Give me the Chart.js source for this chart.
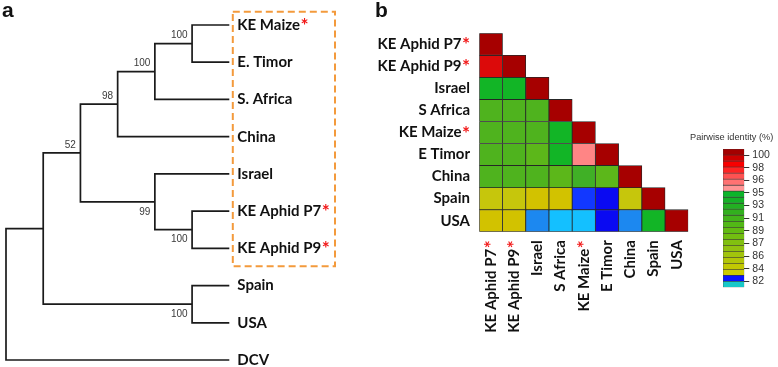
<!DOCTYPE html>
<html>
<head>
<meta charset="utf-8">
<script src="https://cdn.jsdelivr.net/npm/chart.js@4.4.0/dist/chart.umd.min.js"></script>
<style>
  html, body { margin: 0; padding: 0; background: #fff; }
  #wrap { position: relative; width: 778px; height: 367px; overflow: hidden; }
  canvas { position: absolute; }
  .panel { position: absolute; font: bold 21px "Liberation Sans", Arial, sans-serif; line-height: 21px; color: #111; }
  #legendTitle { position: absolute; left: 690px; top: 132px; font: 9.2px "Liberation Sans", Arial, sans-serif; color: #333; white-space: nowrap; }
</style>
</head>
<body>
<div id="wrap">
  <canvas id="treeChart" width="380" height="367" style="left:0;top:0"></canvas>
  <canvas id="heatChart" width="340" height="367" style="left:360px;top:0"></canvas>
  <canvas id="scaleChart" width="78" height="180" style="left:700px;top:120px"></canvas>
  <div class="panel" style="left:2px;top:-1px">a</div>
  <div class="panel" style="left:375px;top:-1px">b</div>
  <div id="legendTitle">Pairwise identity (%)</div>
</div>
<script>
// panel a: cladogram, leaves top to bottom
var treeLeaves = ['KE Maize', 'E. Timor', 'S. Africa', 'China', 'Israel', 'KE Aphid P7', 'KE Aphid P9', 'Spain', 'USA', 'DCV'];
var treeStarred = ['KE Maize', 'KE Aphid P7', 'KE Aphid P9'];
var leafDepth = 6;
// internal nodes: [name, first child, second child, depth, bootstrap]
var treeNodes = [
  ['n1', 'KE Maize', 'E. Timor', 5, 100],
  ['n2', 'n1', 'S. Africa', 4, 100],
  ['n3', 'n2', 'China', 3, 98],
  ['n4', 'KE Aphid P7', 'KE Aphid P9', 5, 100],
  ['n5', 'Israel', 'n4', 4, 99],
  ['n6', 'n3', 'n5', 2, 52],
  ['n7', 'Spain', 'USA', 5, 100],
  ['n8', 'n6', 'n7', 1, null],
  ['root', 'n8', 'DCV', 0, null]
];

// panel b: pairwise identity (%), lower triangle row by row
var heatNames = ['KE Aphid P7', 'KE Aphid P9', 'Israel', 'S Africa', 'KE Maize', 'E Timor', 'China', 'Spain', 'USA'];
var heatStarred = ['KE Aphid P7', 'KE Aphid P9', 'KE Maize'];
var identity = [
  [100],
  [98.4, 100],
  [92.8, 92.8, 100],
  [91.0, 91.0, 91.0, 100],
  [91.0, 91.0, 91.0, 92.6, 100],
  [91.0, 91.0, 90.2, 92.4, 95.8, 100],
  [91.0, 91.0, 91.0, 90.4, 91.6, 90.2, 100],
  [84.4, 84.4, 84.0, 83.8, 82.6, 82.3, 84.6, 100],
  [84.0, 84.0, 82.0, 81.6, 81.6, 82.3, 82.0, 92.8, 100]
];

// colour key
var legendEdges = [100.86, 100.0, 99.14, 98.29, 97.43, 96.57, 95.71, 94.86, 94.0, 93.14, 92.29, 91.43, 90.57, 89.71, 88.86, 88.0, 87.14, 86.29, 85.43, 84.57, 83.71, 82.86, 82.0, 81.14];
var legendColors = ['#a40000', '#cc0000', '#f80000', '#ff2424', '#ff5252', '#ff7272', '#ff9494',
  '#0cb52a', '#14b126', '#22b022', '#32b01e', '#42b41a', '#52b816', '#62bb12', '#72be10', '#82c010',
  '#92c210', '#a2c40c', '#b2c608', '#c2c802', '#cccc00', '#0a14ff', '#18c8c8'];
var legendTicks = [100, 98.2, 96.4, 94.6, 92.8, 91, 89.2, 87.4, 85.6, 83.8, 82];

var cellSteps = [
  [99.5, '#a60000'], [97.5, '#dc0a0a'], [95.3, '#ff8585'], [92.2, '#12b526'], [91.5, '#40b026'],
  [90.7, '#4fb31e'], [89, '#5cb71a'], [84.3, '#c6c60c'], [83.5, '#d2c200'], [82.5, '#1238ff'],
  [82.2, '#0a0af2'], [81.8, '#1c88f0'], [0, '#14c0ff']
];
function cellColor(v) {
  for (var i = 0; i < cellSteps.length; i++) {
    if (v >= cellSteps[i][0]) return cellSteps[i][1];
  }
  return '#fff';
}

var starRed = '#f21818';
var labelFont = 'bold 15px Lato, "Open Sans", sans-serif';
var starFont = 'bold 19px Lato, "Open Sans", sans-serif';

// ---- tree ----
var pos = {};
treeLeaves.forEach(function(name, i) { pos[name] = { x: leafDepth, y: i }; });
var parentOf = {};
treeNodes.forEach(function(n) {
  pos[n[0]] = { x: n[3], y: (pos[n[1]].y + pos[n[2]].y) / 2 };
  parentOf[n[1]] = { node: n[0], first: true };
  parentOf[n[2]] = { node: n[0], first: false };
});

var treeSets = treeNodes.map(function(n) {
  var a = pos[n[1]], b = pos[n[2]], me = pos[n[0]];
  return {
    data: [{ x: a.x, y: a.y }, { x: me.x, y: a.y }, { x: me.x, y: b.y }, { x: b.x, y: b.y }],
    showLine: true, pointRadius: 0, borderColor: '#1a1a1a', borderWidth: 1.7, clip: false
  };
});

var treeLabels = {
  id: 'treeLabels',
  afterDraw: function(chart) {
    var ctx = chart.ctx, xs = chart.scales.x, ys = chart.scales.y;
    ctx.save();
    ctx.textBaseline = 'middle';
    ctx.textAlign = 'left';
    treeLeaves.forEach(function(name, i) {
      var x = xs.getPixelForValue(leafDepth) + 8, y = ys.getPixelForValue(i);
      ctx.font = labelFont;
      ctx.fillStyle = '#111';
      ctx.fillText(name, x, y);
      if (treeStarred.indexOf(name) >= 0) {
        var w = ctx.measureText(name).width;
        ctx.font = starFont;
        ctx.fillStyle = starRed;
        ctx.fillText('*', x + w + 0.5, y + 1);
      }
    });
    // bootstrap values
    ctx.font = '10px "Liberation Sans", Arial, sans-serif';
    ctx.fillStyle = '#3a3a3a';
    ctx.textAlign = 'right';
    treeNodes.forEach(function(n) {
      if (n[4] === null) return;
      var p = pos[n[0]];
      var x = xs.getPixelForValue(p.x) - 4.5, y = ys.getPixelForValue(p.y);
      var above = parentOf[n[0]] && parentOf[n[0]].first;
      ctx.fillText(String(n[4]), x, above ? y - 8 : y + 10);
    });
    // dashed box round the ingroup
    ctx.strokeStyle = '#f39a3c';
    ctx.lineWidth = 2;
    ctx.setLineDash([7, 4]);
    var left = xs.getPixelForValue(leafDepth) + 3.5;
    var top = ys.getPixelForValue(0) - 13.3;
    var bottom = ys.getPixelForValue(6) + 17.8;
    ctx.strokeRect(left, top, 335 - left, bottom - top);
    ctx.restore();
  }
};

new Chart(document.getElementById('treeChart'), {
  type: 'scatter',
  data: { datasets: treeSets },
  options: {
    responsive: false,
    animation: false,
    layout: { padding: { left: 6, right: 150.7, top: 25, bottom: 7 } },
    plugins: { legend: { display: false }, tooltip: { enabled: false } },
    scales: {
      x: { type: 'linear', min: 0, max: leafDepth, display: false },
      y: { type: 'linear', min: 0, max: treeLeaves.length - 1, reverse: true, display: false }
    }
  },
  plugins: [treeLabels]
});

// ---- heatmap ----
var heatLabels = {
  id: 'heatLabels',
  afterDraw: function(chart) {
    var ctx = chart.ctx, xs = chart.scales.x, ys = chart.scales.y, area = chart.chartArea;
    ctx.save();
    ctx.textBaseline = 'middle';
    ctx.textAlign = 'right';
    ctx.font = starFont;
    var sw = ctx.measureText('*').width + 0.5;
    heatNames.forEach(function(name, i) {
      var star = heatStarred.indexOf(name) >= 0;
      var off = star ? sw : 0;
      var right = area.left - 9.3;
      var y = ys.getPixelForValue(i + 0.5);
      ctx.font = labelFont;
      ctx.fillStyle = '#111';
      ctx.fillText(name, right - off, y);
      if (star) { ctx.font = starFont; ctx.fillStyle = starRed; ctx.fillText('*', right, y + 1); }
      ctx.save();
      ctx.translate(xs.getPixelForValue(i), area.bottom + 8.5);
      ctx.rotate(-Math.PI / 2);
      ctx.font = labelFont;
      ctx.fillStyle = '#111';
      ctx.fillText(name, -off, 0);
      if (star) { ctx.font = starFont; ctx.fillStyle = starRed; ctx.fillText('*', 0, 1); }
      ctx.restore();
    });
    ctx.restore();
  }
};

new Chart(document.getElementById('heatChart'), {
  type: 'bar',
  data: {
    labels: heatNames,
    datasets: identity.map(function(row, r) {
      return {
        data: heatNames.map(function(_, c) { return c < row.length ? [r, r + 1] : null; }),
        backgroundColor: heatNames.map(function(_, c) { return c < row.length ? cellColor(row[c]) : 'rgba(0,0,0,0)'; }),
        borderColor: '#262626',
        borderWidth: 0.8,
        borderSkipped: false,
        grouped: false,
        barPercentage: 1,
        categoryPercentage: 1
      };
    })
  },
  options: {
    responsive: false,
    animation: false,
    layout: { padding: { left: 119.3, right: 11.7, top: 33.3, bottom: 135.3 } },
    plugins: { legend: { display: false }, tooltip: { enabled: false } },
    scales: {
      x: { type: 'category', display: false },
      y: { type: 'linear', min: 0, max: heatNames.length, reverse: true, display: false }
    }
  },
  plugins: [heatLabels]
});

// ---- colour key ----
new Chart(document.getElementById('scaleChart'), {
  type: 'bar',
  data: {
    labels: [''],
    datasets: legendColors.map(function(col, k) {
      return {
        data: [[legendEdges[k + 1], legendEdges[k]]],
        backgroundColor: col,
        borderColor: '#3a3a3a',
        borderWidth: 0.6,
        borderSkipped: false,
        grouped: false,
        barPercentage: 1,
        categoryPercentage: 1
      };
    })
  },
  options: {
    responsive: false,
    animation: false,
    layout: { padding: { left: 23, right: 0, top: 29, bottom: 12.7 } },
    plugins: { legend: { display: false }, tooltip: { enabled: false } },
    scales: {
      x: { display: false },
      y: {
        position: 'right',
        min: legendEdges[legendEdges.length - 1],
        max: legendEdges[0],
        afterBuildTicks: function(axis) { axis.ticks = legendTicks.map(function(v) { return { value: v }; }); },
        afterFit: function(axis) { axis.width = 33.7; },
        grid: { drawOnChartArea: false, drawTicks: true, tickLength: 5, color: '#333', lineWidth: 1 },
        border: { display: false },
        ticks: {
          autoSkip: false,
          padding: 3,
          color: '#333',
          font: { family: '"Liberation Sans", Arial, sans-serif', size: 10.5 },
          callback: function(v) { return Math.round(v); }
        }
      }
    }
  }
});
</script>
</body>
</html>
